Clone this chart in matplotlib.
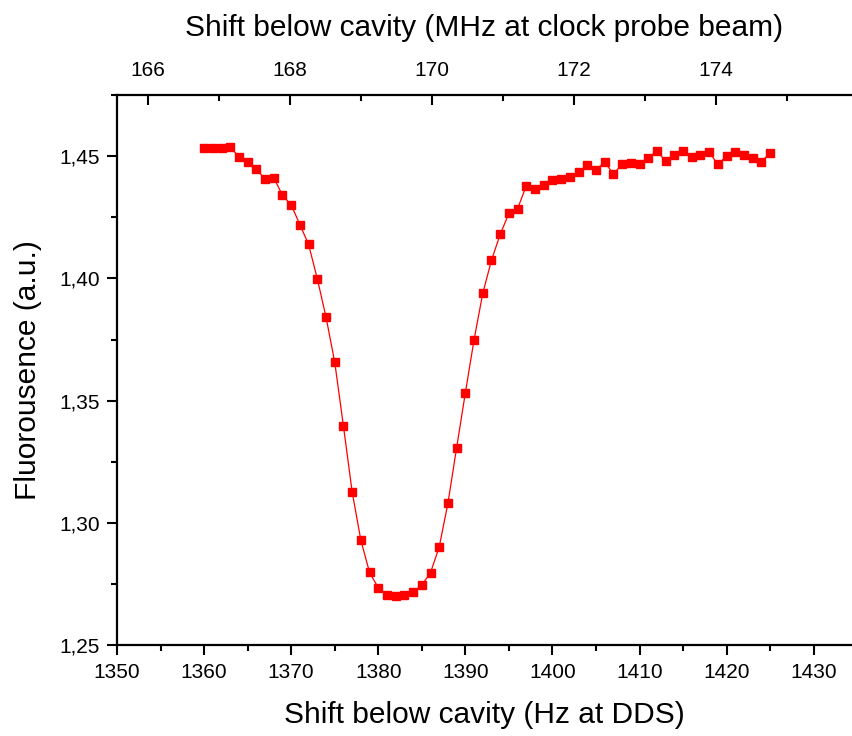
import matplotlib.pyplot as plt
import numpy as np
from matplotlib.ticker import MultipleLocator, FuncFormatter

plt.rcParams['font.family'] = ['Liberation Sans', 'DejaVu Sans']

# shift (Hz at DDS)
shift_hz = np.arange(1360, 1426)
# fluorescence
fluor = [1.4533, 1.4533, 1.4533, 1.4536, 1.4498, 1.4475, 1.4447, 1.4406, 1.4412, 1.4340,
         1.4301, 1.4220, 1.4139, 1.3999, 1.3842, 1.3658, 1.3397, 1.3128, 1.2930, 1.2798,
         1.2735, 1.2706, 1.2702, 1.2704, 1.2718, 1.2746, 1.2797, 1.2902, 1.3081, 1.3308,
         1.3532, 1.3749, 1.3939, 1.4074, 1.4180, 1.4266, 1.4285, 1.4379, 1.4364, 1.4382,
         1.4401, 1.4408, 1.4416, 1.4436, 1.4462, 1.4444, 1.4476, 1.4427, 1.4466, 1.4470,
         1.4469, 1.4493, 1.4522, 1.4479, 1.4503, 1.4522, 1.4495, 1.4505, 1.4517, 1.4466,
         1.4500, 1.4516, 1.4505, 1.4491, 1.4477, 1.4513]

top_ticks = [166, 168, 170, 172, 174]

fig = plt.figure(figsize=(8.52, 7.36), dpi=100)
ax = fig.add_axes([117/852, 1-645.3/736, 1-117/852, (645.3-95)/736])

ax.plot(shift_hz, fluor, color='red', lw=0.9, marker='s', ms=5.5, mec='red', mfc='red')

ax.set_xlim(1350, 1434.4)
ax.set_ylim(1.25, 1.475)
ax.xaxis.set_major_locator(MultipleLocator(10))
ax.xaxis.set_minor_locator(MultipleLocator(5))
ax.yaxis.set_major_locator(MultipleLocator(0.05))
ax.yaxis.set_minor_locator(MultipleLocator(0.025))
ax.yaxis.set_major_formatter(FuncFormatter(lambda v, p: f"{v:.2f}".replace('.', ',')))
ax.tick_params(which='major', direction='out', length=7.5, width=1.5, labelsize=15, pad=5)
ax.tick_params(which='minor', direction='out', length=4, width=1.5)
ax.tick_params(top=False, right=False)
for s in ['left', 'bottom']:
    ax.spines[s].set_linewidth(1.6)
ax.spines['right'].set_visible(False)
ax.spines['top'].set_visible(False)

ax.set_xlabel('Shift below cavity (Hz at DDS)', fontsize=21.5, labelpad=14)
ax.set_ylabel('Fluorousence (a.u.)', fontsize=21.5, labelpad=12)

# top axis in MHz
ax2 = ax.twiny()
ax2.set_xlim(165.563, 175.915)
ax2.set_xticks(top_ticks)
ax2.xaxis.set_minor_locator(MultipleLocator(1))
ax2.tick_params(which='major', direction='in', length=7.5, width=1.5, labelsize=15, pad=11)
ax2.tick_params(which='minor', direction='in', length=4, width=1.5)
ax2.spines['top'].set_linewidth(1.6)
for s in ['left', 'bottom', 'right']:
    ax2.spines[s].set_visible(False)
ax2.set_xlabel('Shift below cavity (MHz at clock probe beam)', fontsize=21.5, labelpad=18)

fig.savefig('out.png', dpi=100)
